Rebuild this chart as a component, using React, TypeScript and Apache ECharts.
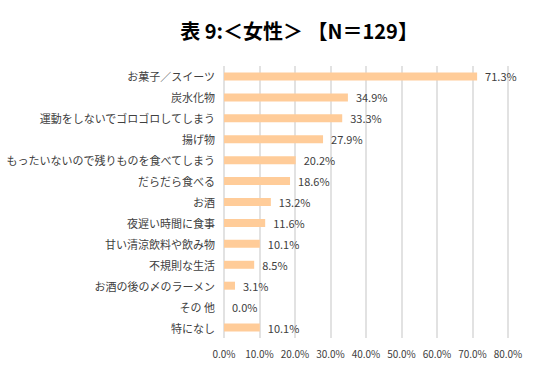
import React, { useEffect, useRef } from "react";
import * as echarts from "echarts";

const categories = [
  "お菓子／スイーツ",
  "炭水化物",
  "運動をしないでゴロゴロしてしまう",
  "揚げ物",
  "もったいないので残りものを食べてしまう",
  "だらだら食べる",
  "お酒",
  "夜遅い時間に食事",
  "甘い清涼飲料や飲み物",
  "不規則な生活",
  "お酒の後の〆のラーメン",
  "その 他",
  "特になし",
];
const values = [71.3, 34.9, 33.3, 27.9, 20.2, 18.6, 13.2, 11.6, 10.1, 8.5, 3.1, 0.0, 10.1];
const titleText = "表 9:＜女性＞ 【N＝129】";

export default function App() {
  const ref = useRef<HTMLDivElement>(null);
  useEffect(() => {
    if (!ref.current) return;
    const chart = echarts.init(ref.current, null, { renderer: "svg" });
    const font = "'Noto Sans CJK JP', 'Noto Sans', sans-serif";
    chart.setOption({
      animation: false,
      backgroundColor: "#ffffff",
      textStyle: { fontFamily: font },
      title: {
        text: titleText,
        left: 294,
        top: 15,
        textAlign: "center",
        textStyle: { fontSize: 20, fontWeight: "bold", color: "#000000", fontFamily: font },
      },
      grid: { left: 224, right: 38, top: 66, bottom: 32, containLabel: false },
      xAxis: {
        type: "value",
        min: 0,
        max: 80,
        interval: 10,
        axisLine: { show: false },
        axisTick: { show: false },
        splitLine: { show: true, lineStyle: { color: "#d9d9d9", width: 1.5 } },
        axisLabel: {
          formatter: (v: number) => v.toFixed(1) + "%",
          fontSize: 10,
          color: "#404040",
          margin: 10,
          fontFamily: font,
        },
      },
      yAxis: {
        type: "category",
        data: categories,
        inverse: true,
        axisLine: { show: false },
        axisTick: { show: false },
        axisLabel: { fontSize: 11, color: "#404040", margin: 9, fontFamily: font },
      },
      series: [
        {
          type: "bar",
          data: values,
          barWidth: 8,
          itemStyle: { color: "#FFCC99" },
          label: {
            show: true,
            position: "right",
            distance: 8,
            formatter: (p: any) => Number(p.value).toFixed(1) + "%",
            fontSize: 11,
            color: "#404040",
            fontFamily: font,
          },
        },
      ],
    });
    return () => chart.dispose();
  }, []);
  return (
    <div
      ref={ref}
      style={{ position: "fixed", left: 0, top: 0, width: 546, height: 370 }}
    />
  );
}
